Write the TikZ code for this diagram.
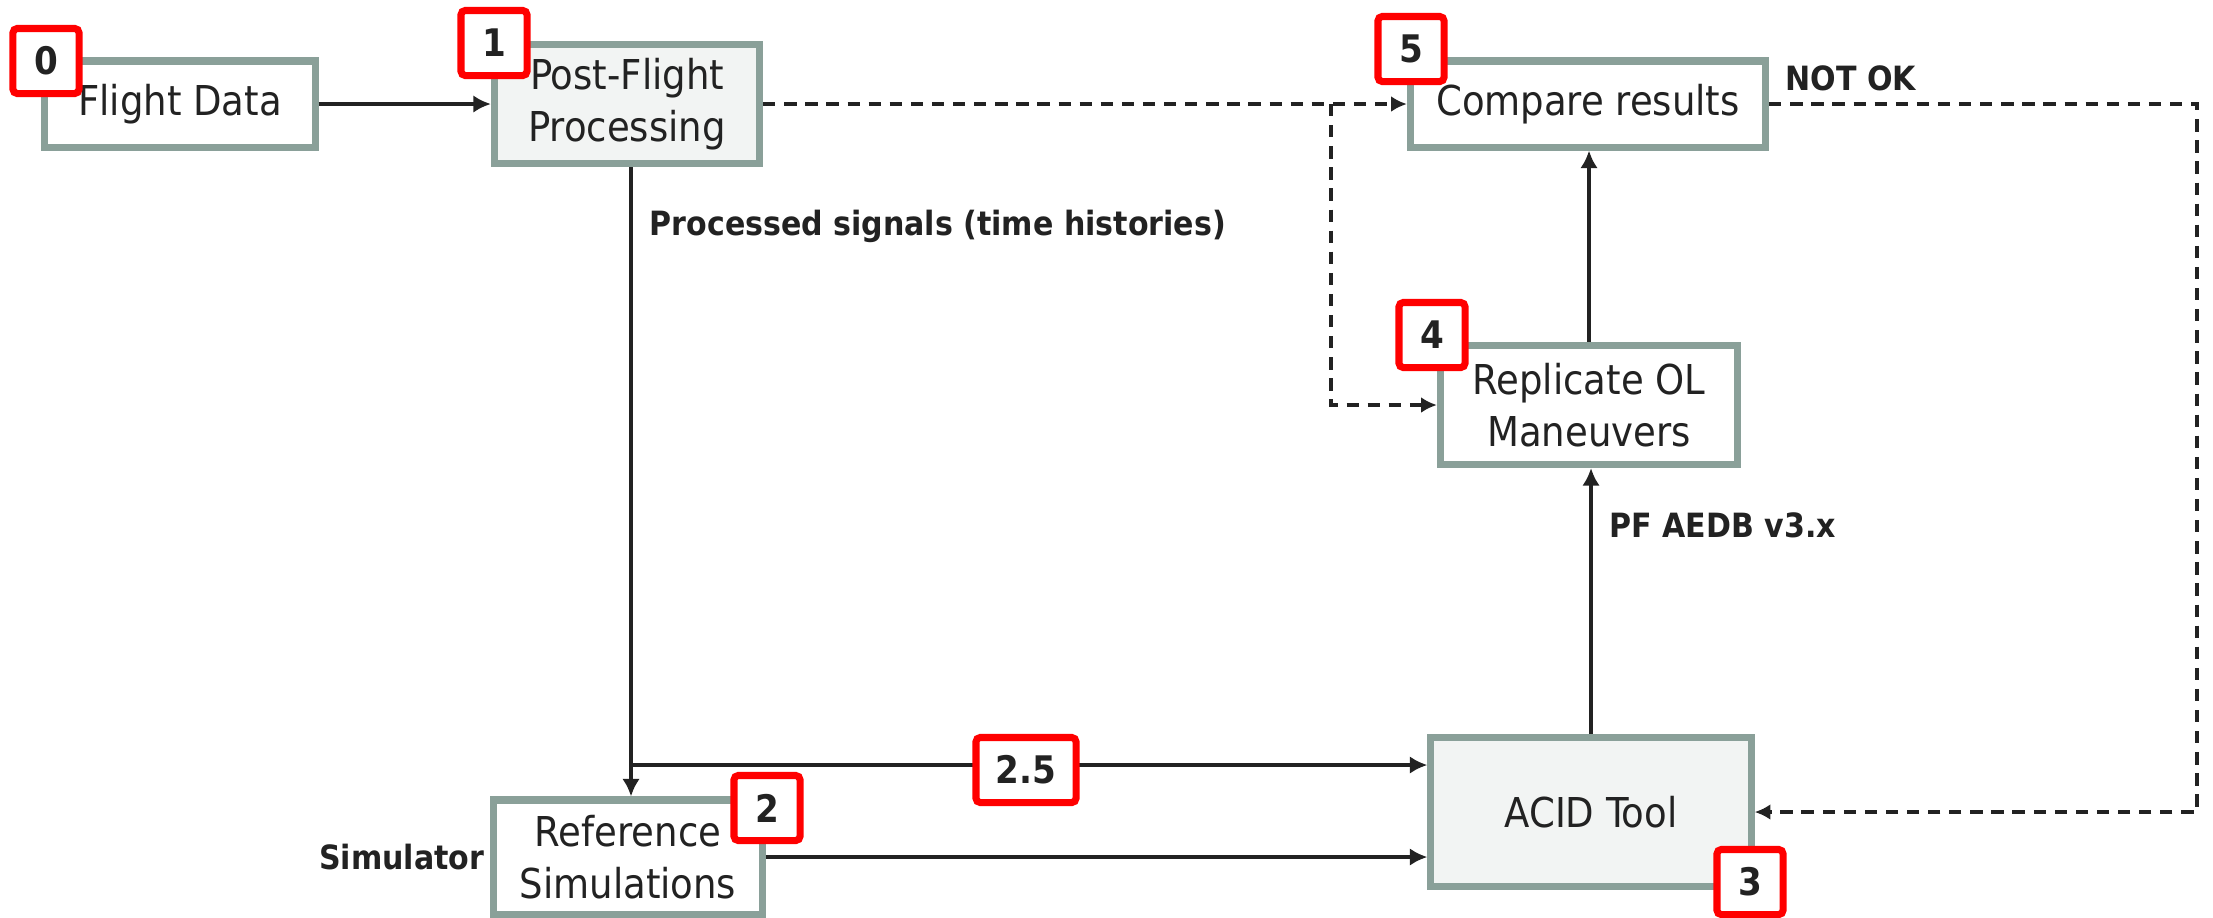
\documentclass[tikz,border=0pt]{standalone}
\usepackage{fontspec}
\setmainfont{DejaVu Sans Condensed}
\usetikzlibrary{arrows.meta}
\definecolor{boxline}{RGB}{138,160,153}
\definecolor{boxfill}{RGB}{242,244,243}
\definecolor{ink}{RGB}{34,34,34}
\definecolor{tagred}{RGB}{255,0,0}

\begin{document}
\begin{tikzpicture}[x=0.01cm,y=-0.01cm,
  stage/.style={draw=boxline, line width=2pt, fill=white, align=center,
    inner sep=0pt, text=ink, font=\fontsize{11.7}{14.8}\selectfont},
  shaded/.style={stage, fill=boxfill},
  tag/.style={draw=tagred, line width=2pt, fill=white, rounded corners=1.2pt,
    inner sep=0pt, minimum width=0.66cm, minimum height=0.65cm, text=ink,
    font=\bfseries\fontsize{10.8}{12}\selectfont},
  note/.style={text=ink, inner sep=0pt, font=\bfseries\fontsize{9.5}{12}\selectfont},
  flow/.style={draw=ink, line width=1.4pt, -{Latex[length=5pt,width=5pt]}},
  loop/.style={draw=ink, line width=1.1pt, dash pattern=on 3.5pt off 2.5pt,
    -{Latex[length=4.5pt,width=4.5pt]}}
]
\useasboundingbox (0,0) rectangle (2213,917);

% process boxes
\node[stage,  minimum width=2.70cm, minimum height=0.86cm] (fd)  at (180,104) {Flight Data};
\node[shaded, minimum width=2.65cm, minimum height=1.19cm] (pf)  at (627,104) {Post-Flight\\Processing};
\node[stage,  minimum width=3.55cm, minimum height=0.86cm] (cmp) at (1588,104) {Compare results};
\node[stage,  minimum width=2.97cm, minimum height=1.19cm] (rep) at (1589,405) {Replicate OL\\Maneuvers};
\node[shaded, minimum width=3.20cm, minimum height=1.49cm] (acid) at (1591,812) {ACID Tool};
\node[stage,  minimum width=2.68cm, minimum height=1.14cm] (ref) at (628,857) {Reference\\Simulations};

% free-standing labels
\node[note, anchor=west] (sig) at (649,226) {Processed signals (time histories)};
\node[note, anchor=west] (aedb) at (1609,525) {PF AEDB v3.x};
\node[note, anchor=west] (nok) at (1785,78) {NOT OK};
\node[note, anchor=east] (sim) at (485,857) {Simulator};

% connectors
\coordinate (split) at (631,765);
\coordinate (fork) at (1331,104);
\coordinate (ret) at (2197,104);

\draw[flow] (fd) -- (pf);
\draw[flow] (pf.south -| split) -- (ref.north -| split);
\draw[flow] (split) -- (split -| acid.west);
\draw[flow] (ref.east) -- (ref.east -| acid.west);
\draw[flow] (acid.north) -- (rep.south -| acid.north);
\draw[flow] (rep.north) -- (cmp.south -| rep.north);
\draw[loop] (pf.east) -- (cmp.west);
\draw[loop] (fork) |- (rep.west);
\draw[loop] (cmp.east) -- (ret) |- (acid.east);

% step numbers
\node[tag] (t0) at (46,61) {0};
\node[tag] (t1) at (494,43) {1};
\node[tag] (t2) at (767,808) {2};
\node[tag, minimum width=1.00cm] (t25) at (1026,770) {2.5};
\node[tag] (t3) at (1750,882) {3};
\node[tag] (t4) at (1432,335) {4};
\node[tag] (t5) at (1411,49) {5};
\end{tikzpicture}
\end{document}
